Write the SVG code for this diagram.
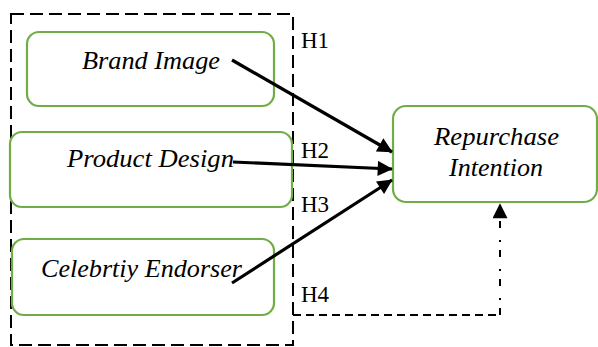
<svg xmlns="http://www.w3.org/2000/svg" width="598" height="347" viewBox="0 0 598 347">
  <style>
    .node { fill: #ffffff; stroke: #70ad47; stroke-width: 2.2; }
    .lbl { font-family: "Liberation Serif", "Times New Roman", serif; font-style: italic; font-size: 25px; fill: #000000; }
    .hyp { font-family: "Liberation Serif", "Times New Roman", serif; font-size: 23px; fill: #000000; }
    .arrow { stroke: #000000; stroke-width: 3.2; fill: none; }
    .frame { fill: none; stroke: #000000; stroke-width: 2; stroke-dasharray: 13 6; }
  </style>
  <defs>
    <marker id="head" viewBox="0 0 10 10" refX="9.5" refY="5" markerWidth="5.2" markerHeight="4.7" markerUnits="strokeWidth" orient="auto">
      <path d="M0,0 L10,5 L0,10 Z" fill="#000000"/>
    </marker>
    <marker id="headThin" viewBox="0 0 10 10" refX="9.5" refY="5" markerWidth="8.5" markerHeight="7.5" markerUnits="strokeWidth" orient="auto">
      <path d="M0,0 L10,5 L0,10 Z" fill="#000000"/>
    </marker>
  </defs>

  <!-- dashed frame grouping the independent variables -->
  <rect class="frame" x="11" y="14" width="282" height="331"/>

  <g id="brand-image">
    <rect class="node" x="27" y="32" width="247" height="74" rx="12"/>
    <text class="lbl" x="82" y="69" textLength="138" lengthAdjust="spacingAndGlyphs">Brand Image</text>
  </g>

  <g id="product-design">
    <rect class="node" x="10" y="132" width="282" height="75" rx="12"/>
    <text class="lbl" x="67" y="167" textLength="167" lengthAdjust="spacingAndGlyphs">Product Design</text>
  </g>

  <g id="celebrity-endorser">
    <rect class="node" x="12" y="239" width="262" height="76" rx="12"/>
    <text class="lbl" x="41" y="277" textLength="201" lengthAdjust="spacingAndGlyphs">Celebrtiy Endorser</text>
  </g>

  <g id="repurchase-intention">
    <rect class="node" x="393" y="106" width="204" height="96" rx="13"/>
    <text class="lbl" x="434" y="145" textLength="125" lengthAdjust="spacingAndGlyphs">Repurchase</text>
    <text class="lbl" x="449" y="176" textLength="94" lengthAdjust="spacingAndGlyphs">Intention</text>
  </g>

  <g id="hypotheses">
    <text class="hyp" x="301" y="48">H1</text>
    <text class="hyp" x="301" y="158">H2</text>
    <text class="hyp" x="301" y="212">H3</text>
    <text class="hyp" x="301" y="302">H4</text>
  </g>

  <g id="connectors">
    <line class="arrow" x1="232" y1="60" x2="392" y2="152" marker-end="url(#head)"/>
    <line class="arrow" x1="233" y1="162" x2="392" y2="169" marker-end="url(#head)"/>
    <line class="arrow" x1="232" y1="283" x2="392" y2="180" marker-end="url(#head)"/>
    <path d="M293,315 H500" fill="none" stroke="#000000" stroke-width="2" stroke-dasharray="8 5"/>
    <path d="M500,315 V204" fill="none" stroke="#000000" stroke-width="2" stroke-dasharray="7 8 2 12" marker-end="url(#headThin)"/>
  </g>
</svg>
